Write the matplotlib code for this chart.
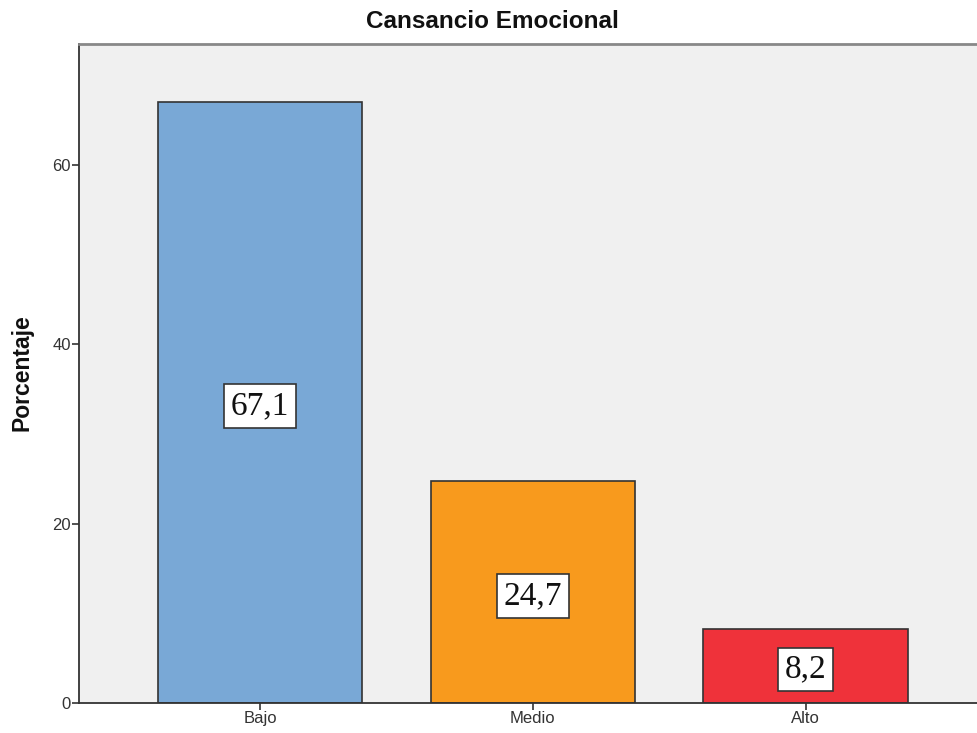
import matplotlib.pyplot as plt

categories = ['Bajo', 'Medio', 'Alto']
percentages = [67.1, 24.7, 8.2]
value_labels = ['67,1', '24,7', '8,2']
bar_colors = ['#79A8D6', '#F89A1D', '#EF323A']
y_ticks = [0, 20, 40, 60]

fig = plt.figure(figsize=(9.77, 7.33), dpi=100)
fig.patch.set_facecolor('white')

# plot area runs a little past the right edge of the picture
ax = fig.add_axes([0.0809, 0.0415, 0.929, 0.899])
ax.set_facecolor('#F0F0F0')

x = range(len(categories))
ax.bar(x, percentages, width=0.75, color=bar_colors,
       edgecolor='#333333', linewidth=1.2, zorder=2)

for i, (val, lab) in enumerate(zip(percentages, value_labels)):
    ax.text(i, val / 2 - 0.4, lab, ha='center', va='center',
            family='Liberation Serif', fontsize=24, color='#111111', zorder=3,
            bbox=dict(boxstyle='square,pad=0.2', facecolor='white',
                      edgecolor='#333333', linewidth=1.2))

ax.set_xlim(-0.663, 2.663)
ax.set_ylim(0, 73.6)
ax.set_xticks(list(x))
ax.set_xticklabels(categories, family='Liberation Sans', fontsize=12, color='#333333')
ax.set_yticks(y_ticks)
ax.set_yticklabels([str(t) for t in y_ticks], family='Liberation Sans',
                   fontsize=12, color='#333333')
ax.tick_params(direction='out', length=5, width=1.2, color='#333333', pad=1)

for side in ['left', 'bottom']:
    ax.spines[side].set_color('#333333')
    ax.spines[side].set_linewidth(1.3)
ax.spines['top'].set_color('#888888')
ax.spines['top'].set_linewidth(2)
ax.spines['right'].set_visible(False)

ax.set_ylabel('Porcentaje', family='Liberation Sans', fontsize=16.5,
              fontweight='bold', color='#111111', va='center')
ax.yaxis.set_label_coords(-0.063, 0.5)
fig.text(492 / 977, 1 - 22 / 733, 'Cansancio Emocional', ha='center', va='center',
         family='Liberation Sans', fontsize=17.5, fontweight='bold', color='#111111')

plt.savefig('out.png', dpi=100)
